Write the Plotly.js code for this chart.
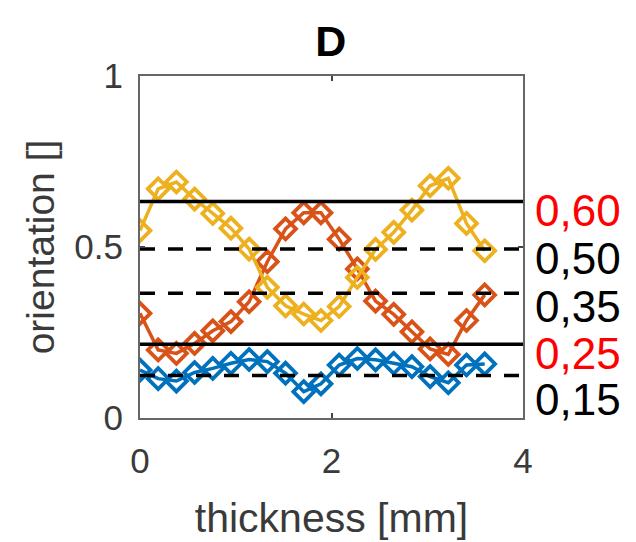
<!DOCTYPE html>
<html>
<head>
<meta charset="utf-8">
<script src="https://cdn.plot.ly/plotly-3.0.1.min.js"></script>
<style>html,body{margin:0;padding:0;background:#fff;}#chart{width:636px;height:542px;}</style>
</head>
<body>
<div id="chart"></div>
<script>
const thickness = [0, 0.19, 0.38, 0.57, 0.76, 0.95, 1.14, 1.33, 1.52, 1.71, 1.89, 2.08, 2.27, 2.46, 2.65, 2.84, 3.03, 3.22, 3.41, 3.6];
const seriesBlue   = [0.140, 0.115, 0.108, 0.133, 0.145, 0.160, 0.171, 0.165, 0.131, 0.077, 0.100, 0.155, 0.174, 0.170, 0.160, 0.150, 0.121, 0.103, 0.155, 0.158];
const seriesOrange = [0.306, 0.199, 0.189, 0.218, 0.255, 0.282, 0.340, 0.457, 0.553, 0.600, 0.600, 0.523, 0.436, 0.342, 0.303, 0.252, 0.202, 0.186, 0.285, 0.360];
const seriesYellow = [0.548, 0.670, 0.690, 0.640, 0.598, 0.555, 0.494, 0.382, 0.328, 0.304, 0.285, 0.326, 0.411, 0.493, 0.543, 0.608, 0.679, 0.701, 0.569, 0.489];

const refLevels = [0.633, 0.494, 0.365, 0.216, 0.124];
const refDash   = ['solid', 'dash', 'dash', 'solid', 'dash'];
const refLabels = ['0,60', '0,50', '0,35', '0,25', '0,15'];
const refLabelY = [0.606, 0.465, 0.325, 0.190, 0.053];
const refLabelColor = ['#ff0000', '#000000', '#000000', '#ff0000', '#000000'];
const xRange = [0, 4];

const colors = {blue: '#0072BD', orange: '#D95319', yellow: '#EDB120'};

function dataTrace(y, c) {
  return {
    x: thickness, y: y, type: 'scatter', mode: 'lines+markers',
    line: {color: c, width: 3.5},
    marker: {symbol: 'diamond-open', size: 16, color: c, line: {color: c, width: 3.8}},
    hoverinfo: 'skip', showlegend: false
  };
}

const traces = [
  dataTrace(seriesBlue, colors.blue),
  dataTrace(seriesOrange, colors.orange),
  dataTrace(seriesYellow, colors.yellow)
];

refLevels.forEach((lv, i) => {
  traces.push({
    x: xRange, y: [lv, lv], type: 'scatter', mode: 'lines',
    line: {color: '#000', width: 3.5, dash: refDash[i] === 'dash' ? '15px,13px' : 'solid'},
    hoverinfo: 'skip', showlegend: false
  });
});

const annotations = refLabels.map((t, i) => ({
  text: t, xref: 'paper', yref: 'y', x: 1.025, y: refLabelY[i],
  xanchor: 'left', yanchor: 'middle', showarrow: false,
  font: {family: 'Liberation Sans, Arial, sans-serif', size: 44, color: refLabelColor[i]}
}));

const axisFont = {family: 'Liberation Sans, Arial, sans-serif', size: 35, color: '#3a3a3a'};

const layout = {
  width: 636, height: 542,
  margin: {l: 140, r: 113, t: 76, b: 124},
  paper_bgcolor: '#fff', plot_bgcolor: '#fff',
  title: {text: '<b>D</b>', x: 0.52, xanchor: 'center', y: 0.925, yanchor: 'middle',
          font: {family: 'Liberation Sans, Arial, sans-serif', size: 43, color: '#000'}},
  xaxis: {
    range: xRange, tickvals: [0, 2, 4], ticktext: ['0', '2', '4'],
    showgrid: false, zeroline: false, showline: true, mirror: 'allticks',
    linecolor: '#666', linewidth: 2, ticks: 'inside', ticklen: 5, tickwidth: 2, tickcolor: '#444',
    tickfont: axisFont, ticklabelstandoff: 11,
    title: {text: 'thickness [mm]', standoff: 24,
            font: {family: 'Liberation Sans, Arial, sans-serif', size: 41, color: '#3a3a3a'}}
  },
  yaxis: {
    range: [0, 1], tickvals: [0, 0.5, 1], ticktext: ['0', '0.5', '1'],
    showgrid: false, zeroline: false, showline: true, mirror: 'allticks',
    linecolor: '#666', linewidth: 2, ticks: 'inside', ticklen: 5, tickwidth: 2, tickcolor: '#444',
    tickfont: axisFont, ticklabelstandoff: 8,
    title: {text: 'orientation []', standoff: 8,
            font: {family: 'Liberation Sans, Arial, sans-serif', size: 39, color: '#3a3a3a'}}
  },
  annotations: annotations
};

Plotly.newPlot('chart', traces, layout, {staticPlot: true, displayModeBar: false});
</script>
</body>
</html>
